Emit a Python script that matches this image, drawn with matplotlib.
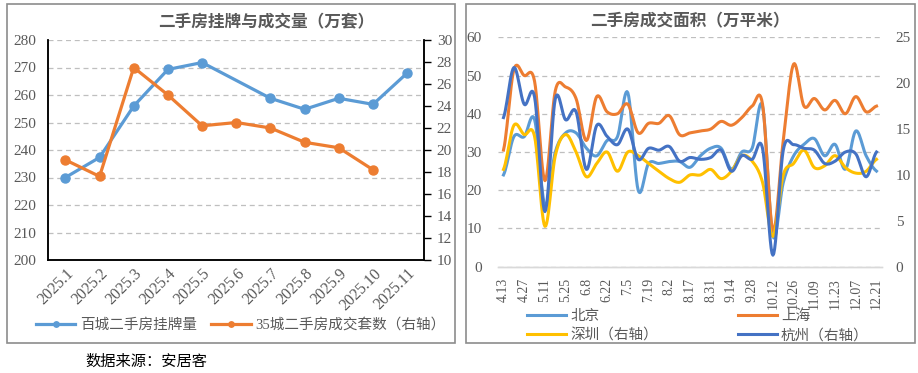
import numpy as np
import matplotlib
matplotlib.use('Agg')
import matplotlib.pyplot as plt
from matplotlib.patches import Rectangle

plt.rcParams['font.family'] = ['Liberation Serif', 'Noto Sans CJK SC']
plt.rcParams['axes.unicode_minus'] = False

# left chart data
months = ['2025.1', '2025.2', '2025.3', '2025.4', '2025.5', '2025.6',
          '2025.7', '2025.8', '2025.9', '2025.10', '2025.11']
listings = [230, 237.3, 256, 269.3, 271.8, np.nan, 258.8, 254.8, 258.8, 256.6, 268]
deals_35 = [19.1, 17.6, 27.5, 25.0, 22.2, 22.5, 22.0, 20.7, 20.2, 18.2, np.nan]

# right chart data (weekly)
weeks = ['4.13', '4.20', '4.27', '5.4', '5.11', '5.18', '5.25', '6.1', '6.8', '6.15',
         '6.22', '6.29', '7.5', '7.12', '7.19', '7.26', '8.2', '8.10', '8.17', '8.24',
         '8.31', '9.7', '9.14', '9.21', '9.28', '10.5', '10.12', '10.19', '10.26', '11.02',
         '11.09', '11.16', '11.23', '11.30', '12.07', '12.14', '12.21']
beijing = [24, 34, 34, 38.5, 16, 30, 35, 35, 31, 29, 33, 34, 45.5, 20, 27, 27, 27.5,
           27.5, 26, 29, 31, 31, 25.5, 30, 31, 42, 8, 22, 29, 32, 33.5, 29, 32, 25.5,
           35.5, 29, 25]
shanghai = [30.5, 51.5, 50, 48.5, 22.5, 46, 47, 44, 33, 44.5, 40.5, 40, 42.5, 35, 37.5,
            37.5, 39.5, 34.5, 35, 35.5, 36, 38, 37, 39, 42, 42.5, 9.5, 33, 53, 42, 44,
            41, 43.5, 40, 44.5, 40.5, 42]
shenzhen = [10.6, 15.4, 14.4, 14.2, 4.4, 12.1, 14.4, 12.5, 9.8, 11.25, 12.5, 10.4, 12.5,
            12.1, 11.25, 10.4, 9.6, 9.2, 10, 10, 10.6, 9.6, 10.4, 12.1, 11.5, 9.2, 3.3,
            10, 11.25, 12.7, 10.8, 11, 12.1, 10.8, 10.2, 10.4, 11.7]
hangzhou = [16.25, 21.7, 17.7, 18.5, 6, 18.3, 16, 16.9, 10.6, 15.4, 14.2, 13.3, 15, 11.7,
            12.9, 12.7, 13.1, 11.5, 11.9, 11.7, 11.9, 12.7, 10.4, 12.1, 11.7, 12.9, 1.25,
            12.7, 13.3, 12.9, 12.7, 11.25, 11.5, 12.5, 12.3, 9.8, 12.5]

BLUE = '#5B9BD5'
ORANGE = '#ED7D31'
YELLOW = '#FFC000'
DBLUE = '#4472C4'
GREY = '#595959'
W, H = 918, 373


def smooth(vals, n=12):
    # Catmull-Rom curve through the points, like Excel's smoothed line
    y = np.asarray(vals, dtype=float)
    p = np.r_[y[0], y, y[-1]]
    xs, ys = [], []
    t = np.linspace(0, 1, n, endpoint=False)
    for i in range(len(y) - 1):
        p0, p1, p2, p3 = p[i:i + 4]
        ys.append(0.5 * (2 * p1 + (p2 - p0) * t + (2 * p0 - 5 * p1 + 4 * p2 - p3) * t ** 2
                         + (3 * p1 - p0 - 3 * p2 + p3) * t ** 3))
        xs.append(i + t)
    xs.append([len(y) - 1])
    ys.append([y[-1]])
    return np.concatenate(xs), np.concatenate(ys)


def px(x0, y0, x1, y1):
    return [x0 / W, 1 - y1 / H, (x1 - x0) / W, (y1 - y0) / H]


fig = plt.figure(figsize=(W / 100, H / 100), dpi=100)

# panel frames
for x0, y0, x1, y1 in [(7, 4, 455, 343), (466, 4, 915, 343)]:
    fig.patches.append(Rectangle((x0 / W, 1 - y1 / H), (x1 - x0) / W, (y1 - y0) / H,
                                 transform=fig.transFigure, fill=False,
                                 edgecolor='#8C8C8C', lw=1.2))

# ---------- left chart ----------
ax = fig.add_axes(px(48.3, 40, 424.3, 260))
ax2 = ax.twinx()
x = np.arange(len(months))
lst = np.array(listings)
ok = ~np.isnan(lst)
ax.plot(x[ok], lst[ok], color=BLUE, lw=2.3, marker='o', ms=6.5, label='百城二手房挂牌量')
d35 = np.array(deals_35)
ok2 = ~np.isnan(d35)
ax2.plot(x[ok2], d35[ok2], color=ORANGE, lw=2.3, marker='o', ms=6.5,
         label='35城二手房成交套数（右轴）')
ax.set_ylim(200, 280)
ax.set_yticks(range(200, 281, 10))
ax2.set_ylim(10, 30)
ax2.set_yticks(range(10, 31, 2))
ax.set_xlim(-0.5, len(months) - 0.5)
ax.set_xticks(x)
ax.set_xticklabels(months, rotation=45, ha='right', rotation_mode='anchor')
ax.grid(axis='y', color='#BFBFBF', ls=(0, (4, 3)), lw=0.9)
ax.set_axisbelow(True)
for a in (ax, ax2):
    a.spines['top'].set_visible(False)
    for s in ('left', 'bottom', 'right'):
        a.spines[s].set_color('black')
        a.spines[s].set_linewidth(1.1)
ax.tick_params(axis='y', length=0, labelsize=11, labelcolor=GREY, pad=9)
ax.tick_params(axis='x', length=0, labelsize=11.5, labelcolor=GREY, pad=4)
ax2.tick_params(axis='y', length=5, width=1, direction='out', labelsize=11,
                labelcolor=GREY, pad=4)
ax.set_title('二手房挂牌与成交量（万套）', fontsize=12, color=GREY, fontweight='bold', pad=9,
             x=0.58)
h1, l1 = ax.get_legend_handles_labels()
h2, l2 = ax2.get_legend_handles_labels()
leg = ax.legend(h1 + h2, l1 + l2, loc='center left', bbox_to_anchor=(36 / W, 1 - 325 / H),
                bbox_transform=fig.transFigure, ncol=2, frameon=False, fontsize=10.5,
                handlelength=2.7, handletextpad=0.3, columnspacing=1.0, markerscale=0.6,
                borderpad=0, borderaxespad=0)
for t in leg.get_texts():
    t.set_color(GREY)

fig.text(85 / W, 1 - 362 / H, '数据来源：安居客', fontsize=11, ha='left', va='center',
         color='black')

# ---------- right chart ----------
bx = fig.add_axes(px(498.3, 37.3, 881.7, 266.7))
bx2 = bx.twinx()
sx, sy = smooth(beijing)
bx.plot(sx, sy, color=BLUE, lw=2.2, label='北京', zorder=3)
sx, sy = smooth(shanghai)
bx.plot(sx, sy, color=ORANGE, lw=2.2, label='上海', zorder=3)
sx, sy = smooth(shenzhen)
bx2.plot(sx, sy, color=YELLOW, lw=2.2, label='深圳（右轴）')
sx, sy = smooth(hangzhou)
bx2.plot(sx, sy, color=DBLUE, lw=2.2, label='杭州（右轴）')
bx.set_ylim(0, 60)
bx.set_yticks(range(0, 61, 10))
bx2.set_ylim(0, 25)
bx2.set_yticks(range(0, 26, 5))
bx.set_xlim(-0.5, len(weeks) - 0.5)
wx = np.arange(len(weeks))
bx.set_xticks(wx[::2])
bx.set_xticklabels(weeks[::2], rotation=90, ha='center', va='top')
bx.grid(axis='y', color='#BFBFBF', ls=(0, (4, 3)), lw=0.9)
bx.set_axisbelow(True)
for a in (bx, bx2):
    for s in ('top', 'left', 'right'):
        a.spines[s].set_visible(False)
    a.spines['bottom'].set_color('#D9D9D9')
    a.spines['bottom'].set_linewidth(1.0)
bx.tick_params(axis='y', length=0, labelsize=11, labelcolor=GREY, pad=12)
bx.tick_params(axis='x', length=0, labelsize=10, labelcolor=GREY, pad=8)
bx2.tick_params(axis='y', length=0, labelsize=11, labelcolor=GREY, pad=10)
bx.set_title('二手房成交面积（万平米）', fontsize=12, color=GREY, fontweight='bold', pad=8)
h1, l1 = bx.get_legend_handles_labels()
h2, l2 = bx2.get_legend_handles_labels()
# ncol=2 fills column-wise, so order gives rows: 北京 上海 / 深圳 杭州
leg2 = bx.legend([h1[0], h2[0], h1[1], h2[1]], [l1[0], l2[0], l1[1], l2[1]],
                 loc='center left', bbox_to_anchor=(527 / W, 1 - 326 / H),
                 bbox_transform=fig.transFigure, ncol=2, frameon=False, fontsize=10.5,
                 handlelength=2.7, handletextpad=0.25, columnspacing=5.5, labelspacing=0.35,
                 borderpad=0, borderaxespad=0)
for t in leg2.get_texts():
    t.set_color(GREY)

fig.savefig('out.png', dpi=100)
